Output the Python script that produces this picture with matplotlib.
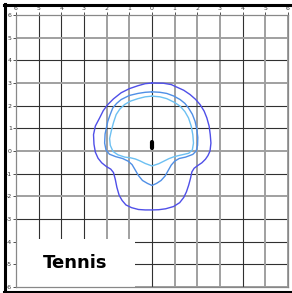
import matplotlib.pyplot as plt
from matplotlib.lines import Line2D
from matplotlib.patches import Rectangle

# ticks
ticks = list(range(-6, 7))
top_labels = [str(abs(t)) for t in ticks]
left_labels = [str(t) for t in ticks]

# linhas da grade que aparecem mais escuras
dark_v = [-5, -4, -3, 0, 4]
dark_h = [4, 2, 1, -1, -3, -4, -5]

# contorno externo
outer_x = [0, 0.5, 0.85, 1.09, 1.4, 1.68, 1.92, 2.12, 2.3, 2.42, 2.52, 2.57, 2.6, 2.56, 2.47,
           2.36, 2.2, 2.02, 1.86, 1.76, 1.7, 1.62, 1.52, 1.4, 1.22, 0.95, 0.6, 0.3, 0,
           -0.3, -0.6, -0.9, -1.15, -1.32, -1.45, -1.55, -1.62, -1.7, -1.82, -2.02, -2.22,
           -2.38, -2.5, -2.56, -2.58, -2.5, -2.31, -2.15, -1.95, -1.7, -1.36, -1.0, -0.62, -0.3, 0]
outer_y = [3.0, 2.99, 2.93, 2.82, 2.68, 2.49, 2.28, 2.05, 1.76, 1.46, 1.1, 0.72, 0.35, 0.0, -0.2,
           -0.36, -0.52, -0.64, -0.76, -0.92, -1.2, -1.5, -1.8, -2.05, -2.28, -2.45, -2.55, -2.59, -2.6,
           -2.6, -2.58, -2.5, -2.38, -2.18, -1.95, -1.6, -1.25, -0.95, -0.8, -0.68, -0.52,
           -0.32, -0.05, 0.3, 0.72, 1.1, 1.46, 1.78, 2.05, 2.3, 2.57, 2.75, 2.88, 2.97, 3.0]

# contorno do meio
mid_x = [0, 0.35, 0.65, 0.95, 1.24, 1.45, 1.61, 1.78, 1.9, 1.98, 2.02, 2.01, 1.95, 1.8, 1.48,
         1.2, 1.0, 0.85, 0.72, 0.58, 0.4, 0.2, 0, -0.2, -0.42, -0.6, -0.75, -0.88, -1.05,
         -1.3, -1.6, -1.88, -2.03, -2.09, -2.07, -1.95, -1.84, -1.73, -1.56, -1.36, -1.0,
         -0.62, -0.3, 0]
mid_y = [2.61, 2.59, 2.54, 2.43, 2.27, 2.1, 1.9, 1.62, 1.31, 0.95, 0.6, 0.25, 0.0, -0.15, -0.27,
         -0.33, -0.45, -0.62, -0.85, -1.1, -1.3, -1.43, -1.52, -1.43, -1.3, -1.08, -0.82, -0.6, -0.45,
         -0.33, -0.25, -0.14, 0.05, 0.35, 0.75, 1.31, 1.62, 1.9, 2.1, 2.27, 2.45,
         2.54, 2.59, 2.61]

# contorno interno
inner_x = [0, 0.35, 0.65, 0.98, 1.24, 1.45, 1.61, 1.73, 1.8, 1.83, 1.78, 1.62, 1.4, 1.18,
           0.95, 0.74, 0.5, 0.3, 0, -0.3, -0.52, -0.74, -0.95, -1.2, -1.5, -1.72, -1.84,
           -1.87, -1.8, -1.7, -1.58, -1.42, -1.21, -0.95, -0.62, -0.3, 0]
inner_y = [2.42, 2.39, 2.31, 2.15, 1.98, 1.74, 1.46, 1.1, 0.72, 0.35, 0.05, -0.1, -0.15, -0.2,
           -0.26, -0.34, -0.46, -0.56, -0.66, -0.55, -0.44, -0.35, -0.3, -0.27, -0.17, -0.02, 0.25,
           0.55, 0.87, 1.25, 1.61, 1.85, 2.05, 2.2, 2.31, 2.39, 2.42]

# marca central
blob_x = [0, 0]
blob_y = [0.15, 0.4]

fig = plt.figure(figsize=(2.92, 2.93), dpi=100)
W, H = 292, 293
ax = fig.add_axes([16 / W, (H - 287) / H, (288 - 16) / W, (287 - 15) / H])

# grade: umas linhas escuras e finas, outras cinza e mais grossas
for t in ticks:
    if t in dark_v:
        ax.axvline(t, color='#303030', lw=0.8, zorder=1)
    else:
        ax.axvline(t, color='#a0a0a0', lw=1.4, zorder=1)
    if t in dark_h:
        ax.axhline(t, color='#303030', lw=0.8, zorder=1)
    else:
        ax.axhline(t, color='#a0a0a0', lw=1.4, zorder=1)

ax.plot(outer_x, outer_y, color='#4f4fe8', lw=1.0, zorder=3)
ax.plot(mid_x, mid_y, color='#4f8fe6', lw=1.0, zorder=3)
ax.plot(inner_x, inner_y, color='#6cc0f2', lw=1.0, zorder=3)
ax.plot(blob_x, blob_y, color='black', lw=3, solid_capstyle='round', zorder=4)

# caixa do texto
ax.add_patch(Rectangle((-6, -6), 5.25, 2.1, facecolor='white', edgecolor='none', zorder=5))
ax.text(-3.41, -4.93, 'Tennis', fontsize=13, fontweight='bold', ha='center', va='center', zorder=6)

ax.set_xlim(-6, 6)
ax.set_ylim(-6, 6)
ax.set_xticks(ticks)
ax.set_xticklabels(top_labels)
ax.set_yticks(ticks)
ax.set_yticklabels(left_labels)
ax.xaxis.tick_top()
ax.tick_params(labelsize=4.5, length=2, width=0.6, pad=1, colors='#333333')
for s in ax.spines.values():
    s.set_color('#888888')
    s.set_linewidth(0.9)
    s.set_zorder(7)

# moldura preta
fig.add_artist(Line2D([5.3 / W, 5.3 / W], [0, 1 - 4 / H], color='black', lw=2.2))
fig.add_artist(Line2D([4 / W, 1], [1 - 5.3 / H, 1 - 5.3 / H], color='black', lw=2.2))
fig.add_artist(Line2D([4 / W, 1], [1.5 / H, 1.5 / H], color='black', lw=2.2))

plt.savefig('out.png', dpi=100)
